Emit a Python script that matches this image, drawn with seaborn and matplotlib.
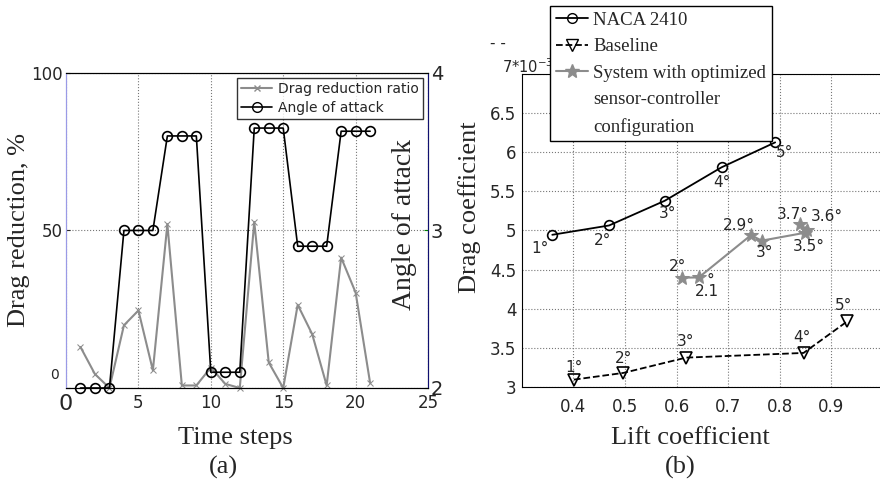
import numpy as np
import pandas as pd
import seaborn as sns
import matplotlib.pyplot as plt
from matplotlib.lines import Line2D

# (a) serie temporal
pasos = list(range(1, 22))
reduccion = [13, 4.4, 0, 19.9, 24.6, 5.6, 52, 0.8, 0.8, 6.5, 1.3, 0, 52.7, 8.1, 0,
             26.4, 17.1, 0.8, 41.4, 30.3, 1.6]
angulo = [2, 2, 2, 3, 3, 3, 3.6, 3.6, 3.6, 2.1, 2.1, 2.1, 3.65, 3.65, 3.65,
          2.9, 2.9, 2.9, 3.63, 3.63, 3.63]

# (b) polar Cl-Cd
naca_cl = [0.359, 0.469, 0.577, 0.687, 0.791]
naca_cd = [4.945, 5.064, 5.38, 5.807, 6.126]
naca_lab = ['1°', '2°', '3°', '4°', '5°']
base_cl = [0.401, 0.497, 0.618, 0.846, 0.931]
base_cd = [3.094, 3.18, 3.375, 3.435, 3.84]
base_lab = ['1°', '2°', '3°', '4°', '5°']
sys_cl = [0.611, 0.643, 0.744, 0.765, 0.848, 0.853, 0.839]
sys_cd = [4.397, 4.40, 4.94, 4.87, 4.97, 5.01, 5.077]
sys_lab = ['2°', '2.1', '2.9°', '3°', '3.5°', '3.6°', '3.7°']

# desplazamientos de las etiquetas (pixeles)
naca_off = [(-12, -14), (-6, -15), (3, -13), (0, -15), (9, -10)]
base_off = [(0, 12), (0, 14), (0, 16), (-2, 15), (-4, 16)]
sys_off = [(-5, 11), (8, -14), (-12, 10), (3, -12), (4, -14), (20, 13), (-7, 10)]

sns.set_style("white")
plt.rcParams['font.family'] = ['DejaVu Sans']
serif = 'Liberation Serif'
gris = '#8c8c8c'

fig = plt.figure(figsize=(8.8, 4.83), dpi=100)

# ---------- panel (a) ----------
ax1 = fig.add_axes([0.075, 0.1967, 0.4114, 0.6523])
ax2 = ax1.twinx()
sns.lineplot(x=pasos, y=reduccion, ax=ax1, color=gris, marker='x', markersize=5,
             markeredgecolor=gris, linewidth=1.5, sort=False, estimator=None, clip_on=False)
sns.lineplot(x=pasos, y=angulo, ax=ax2, color='black', marker='o', markersize=7,
             markerfacecolor='none', markeredgecolor='black', markeredgewidth=1.2,
             linewidth=1.2, sort=False, estimator=None, clip_on=False)
ax1.set_xlim(0, 25)
ax1.set_ylim(0, 100)
ax2.set_ylim(2, 4)
ax1.set_xticks([0, 5, 10, 15, 20, 25])
ax1.set_yticks([0, 50, 100])
ax1.set_yticklabels(['', '50', '100'])
ax2.set_yticks([2, 3, 4])
ax1.tick_params(axis='both', labelsize=12, direction='in', length=3, pad=2)
ax1.tick_params(axis='x', pad=4)
ax2.tick_params(axis='y', labelsize=14, direction='in', length=3, pad=2, color='green')
ax1.get_xticklabels()[0].set_fontsize(16)
ax1.text(-0.02, 0.04, '0', transform=ax1.transAxes, ha='right', va='center', fontsize=10)
ax1.grid(True, linestyle=':', color='#777777', linewidth=0.8)
ax1.set_xlabel('')
ax1.set_ylabel('')
ax2.set_ylabel('')
ax1.spines['left'].set_color('#9a9ae6')
ax2.spines['left'].set_color('#9a9ae6')
ax2.spines['right'].set_color('#101070')
for a in (ax1, ax2):
    a.spines['top'].set_color('black')
    a.spines['bottom'].set_color('black')
ax1.text(-0.13, 0.5, 'Drag reduction, %', rotation=90, transform=ax1.transAxes,
         ha='center', va='center', fontsize=19, family=serif)
ax1.text(0.935, 0.52, 'Angle of attack', rotation=90, transform=ax1.transAxes,
         ha='center', va='center', fontsize=20, family=serif)
h_a = [Line2D([], [], color=gris, marker='x', markersize=5, linewidth=1.5),
       Line2D([], [], color='black', marker='o', markersize=7, markerfacecolor='none',
              linewidth=1.2)]
leg = ax2.legend(h_a, ['Drag reduction ratio', 'Angle of attack'], loc='upper right',
                 bbox_to_anchor=(0.985, 0.985), fontsize=10, frameon=True, fancybox=False,
                 edgecolor='black', labelspacing=0.35, borderpad=0.3, handlelength=2.2,
                 handletextpad=0.4, borderaxespad=0)
leg.get_frame().set_linewidth(1.0)

# ---------- panel (b) ----------
ax3 = fig.add_axes([0.593, 0.1988, 0.4104, 0.648])
sns.lineplot(x=naca_cl, y=naca_cd, ax=ax3, color='black', marker='o', markersize=7,
             markerfacecolor='none', markeredgecolor='black', markeredgewidth=1.2,
             linewidth=1.3, sort=False, estimator=None)
sns.lineplot(x=base_cl, y=base_cd, ax=ax3, color='black', marker='v', markersize=8,
             markerfacecolor='none', markeredgecolor='black', markeredgewidth=1.2,
             linewidth=1.3, linestyle='--', sort=False, estimator=None, clip_on=False)
sns.lineplot(x=sys_cl, y=sys_cd, ax=ax3, color=gris, marker='*', markersize=10,
             markeredgecolor=gris, linewidth=1.5, sort=False, estimator=None)
for xs, ys, labs, offs in [(naca_cl, naca_cd, naca_lab, naca_off),
                           (base_cl, base_cd, base_lab, base_off),
                           (sys_cl, sys_cd, sys_lab, sys_off)]:
    for x, y, t, (dx, dy) in zip(xs, ys, labs, offs):
        ax3.annotate(t, (x, y), xytext=(dx, dy), textcoords='offset pixels',
                     ha='center', va='center', fontsize=11)
ax3.annotate('°', (sys_cl[1], sys_cd[1]), xytext=(12, -3), textcoords='offset pixels',
             ha='center', va='center', fontsize=11)
ax3.set_xlim(0.3, 1.0)
ax3.set_ylim(3, 7)
ax3.set_xticks([0.4, 0.5, 0.6, 0.7, 0.8, 0.9, 1.0])
ax3.set_xticklabels(['0.4', '0.5', '0.6', '0.7', '0.8', '0.9', '1'])
ax3.set_yticks([3, 3.5, 4, 4.5, 5, 5.5, 6, 6.5, 7])
ax3.set_yticklabels(['3', '3.5', '4', '4.5', '5', '5.5', '6', '6.5', ''])
ax3.tick_params(axis='both', labelsize=12, direction='in', length=3, pad=4)
ax3.tick_params(axis='x', pad=8)
ax3.grid(True, linestyle=':', color='#777777', linewidth=0.8)
for s in ax3.spines.values():
    s.set_color('black')
ax3.set_xlabel('')
ax3.set_ylabel('')
fig.text(502 / 880, 1 - 67 / 483, '7*10$^{-3}$', ha='left', va='center', fontsize=10.5)
fig.text(0.566, 1 - 44 / 483, '- -', ha='center', va='center', fontsize=11)
fig.text(470 / 880, 1 - 207 / 483, 'Drag coefficient', rotation=90, ha='center',
         va='center', fontsize=19, family=serif)
vacio = Line2D([], [], linestyle='none')
h_b = [Line2D([], [], color='black', marker='o', markersize=7, markerfacecolor='none',
              linewidth=1.3),
       Line2D([], [], color='black', marker='v', markersize=8, markerfacecolor='none',
              linewidth=1.3, linestyle='--'),
       Line2D([], [], color=gris, marker='*', markersize=10, linewidth=1.5),
       vacio, vacio]
leg2 = fig.legend(h_b, ['NACA 2410', 'Baseline', 'System with optimized',
                        'sensor-controller', 'configuration'],
                  loc='upper left', bbox_to_anchor=(550 / 880, 1 - 6 / 483),
                  prop={'family': serif, 'size': 13.5}, frameon=True, fancybox=False,
                  edgecolor='black', framealpha=1, labelspacing=0.5, borderpad=0.3,
                  handlelength=1.7, handletextpad=0.3, borderaxespad=0)
leg2.get_frame().set_linewidth(1.0)

# titulos inferiores
fig.text(235 / 880, 1 - 438 / 483, 'Time steps', ha='center', va='center',
         fontsize=19, family=serif)
fig.text(223 / 880, 1 - 467 / 483, '(a)', ha='center', va='center',
         fontsize=19, family=serif)
fig.text(690 / 880, 1 - 438 / 483, 'Lift coefficient', ha='center', va='center',
         fontsize=19, family=serif)
fig.text(680 / 880, 1 - 467 / 483, '(b)', ha='center', va='center',
         fontsize=19, family=serif)

fig.savefig('out.png', dpi=100)
